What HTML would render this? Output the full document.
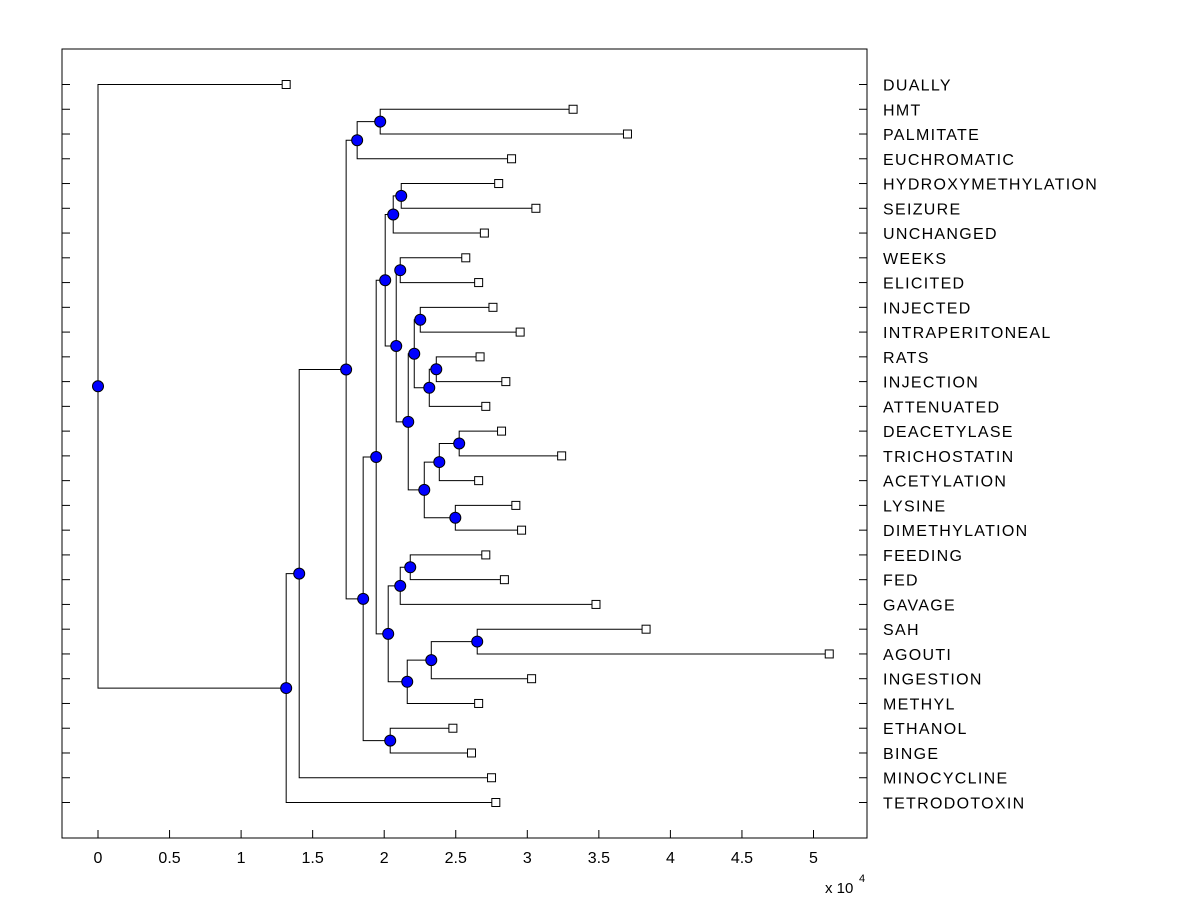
<!DOCTYPE html>
<html><head><meta charset="utf-8"><style>
body{margin:0;background:#fff;}
svg{display:block;font-family:"Liberation Sans",Arial,sans-serif;}
</style></head><body>
<svg id="chart" width="1200" height="900" viewBox="0 0 1200 900">
<rect x="0" y="0" width="1200" height="900" fill="#fff"/>
<rect x="62" y="49" width="805" height="789" fill="#fff" stroke="#000" stroke-width="1"/>
<g id="links"></g>
<g id="marks"></g>
<g id="axes"></g>
</svg>
<script>
const leafNames = ["DUALLY","HMT","PALMITATE","EUCHROMATIC","HYDROXYMETHYLATION","SEIZURE","UNCHANGED","WEEKS","ELICITED","INJECTED","INTRAPERITONEAL","RATS","INJECTION","ATTENUATED","DEACETYLASE","TRICHOSTATIN","ACETYLATION","LYSINE","DIMETHYLATION","FEEDING","FED","GAVAGE","SAH","AGOUTI","INGESTION","METHYL","ETHANOL","BINGE","MINOCYCLINE","TETRODOTOXIN"];
const leafValues = [1.315,3.32,3.70,2.89,2.80,3.06,2.70,2.57,2.66,2.76,2.95,2.67,2.85,2.71,2.82,3.24,2.66,2.92,2.96,2.71,2.84,3.48,3.83,5.11,3.03,2.66,2.48,2.61,2.75,2.78];
// internal nodes: name, height, child1, child2 (children refer to leaf names or node names)
const nodeNames  = ["F","D","M","K","L","O","Q","R","P","V","T","U","S","J","N","I","AA","Y","AC","AB","Z","W","E","X","H","C","B","A","ROOT"];
const nodeHeights= [1.972,1.811,2.119,2.063,2.112,2.252,2.364,2.315,2.210,2.524,2.385,2.497,2.280,2.168,2.084,2.007,2.182,2.112,2.650,2.329,2.161,2.028,1.944,2.042,1.853,1.734,1.406,1.315,0];
const nodeLeft   = ["HMT","F","HYDROXYMETHYLATION","M","WEEKS","INJECTED","RATS","Q","O","DEACETYLASE","V","LYSINE","T","P","L","K","FEEDING","AA","SAH","AC","AB","Y","I","ETHANOL","E","D","MINOCYCLINE","TETRODOTOXIN","DUALLY"];
const nodeRight  = ["PALMITATE","EUCHROMATIC","SEIZURE","UNCHANGED","ELICITED","INTRAPERITONEAL","INJECTION","ATTENUATED","R","TRICHOSTATIN","ACETYLATION","DIMETHYLATION","U","S","J","N","FED","GAVAGE","AGOUTI","INGESTION","METHYL","Z","W","BINGE","X","H","C","B","A"];
const xTicks = [0,0.5,1,1.5,2,2.5,3,3.5,4,4.5,5];

const NS="http://www.w3.org/2000/svg";
const X0=98, PXU=143.1, Y0=84.5, DY=(802.5-84.5)/29;
const sx=v=>X0+v*PXU;
const sy=i=>Y0+i*DY;
function el(tag,attrs,parent){const e=document.createElementNS(NS,tag);for(const k in attrs)e.setAttribute(k,attrs[k]);parent.appendChild(e);return e;}
const links=document.getElementById('links'), marks=document.getElementById('marks'), axes=document.getElementById('axes');
const pos={};
leafNames.forEach((n,i)=>{pos[n]={x:leafValues[i],y:sy(i)};});
nodeNames.forEach((n,i)=>{
  const a=pos[nodeLeft[i]], b=pos[nodeRight[i]], h=nodeHeights[i];
  pos[n]={x:h,y:(a.y+b.y)/2};
  const p=el('path',{d:`M${sx(a.x)},${a.y}H${sx(h)}V${b.y}H${sx(b.x)}`,fill:'none',stroke:'#000','stroke-width':1},links);
  
  
});
leafNames.forEach((n,i)=>{
  const r=el('rect',{x:sx(leafValues[i])-4,y:sy(i)-4,width:8,height:8,fill:'#fff',stroke:'#000','stroke-width':1},marks);
  
  
  const t=el('text',{x:883,y:sy(i)+6,'font-size':16,'letter-spacing':1.3,fill:'#000'},axes);
  t.textContent=n;
  
  
  const tl=el('line',{x1:62,x2:70,y1:sy(i),y2:sy(i),stroke:'#000'},axes);
  
  
  const tr=el('line',{x1:859,x2:867,y1:sy(i),y2:sy(i),stroke:'#000'},axes);
  
  
});
nodeNames.forEach((n,i)=>{
  const c=el('circle',{cx:sx(pos[n].x),cy:pos[n].y,r:5.5,fill:'#0000ff',stroke:'#000','stroke-width':1},marks);
  
  
});
xTicks.forEach(v=>{
  const l=el('line',{x1:sx(v),x2:sx(v),y1:838,y2:830,stroke:'#000'},axes);
  
  
  const t=el('text',{x:sx(v),y:863,'font-size':16,'text-anchor':'middle',fill:'#000'},axes);
  t.textContent=String(v);
  
  
});
const ex=el('text',{x:825,y:893,'font-size':15,fill:'#000'},axes);
ex.textContent='x 10';


const ex2=el('text',{x:859,y:882,'font-size':11,fill:'#000'},axes);
ex2.textContent='4';


</script>
</body></html>
